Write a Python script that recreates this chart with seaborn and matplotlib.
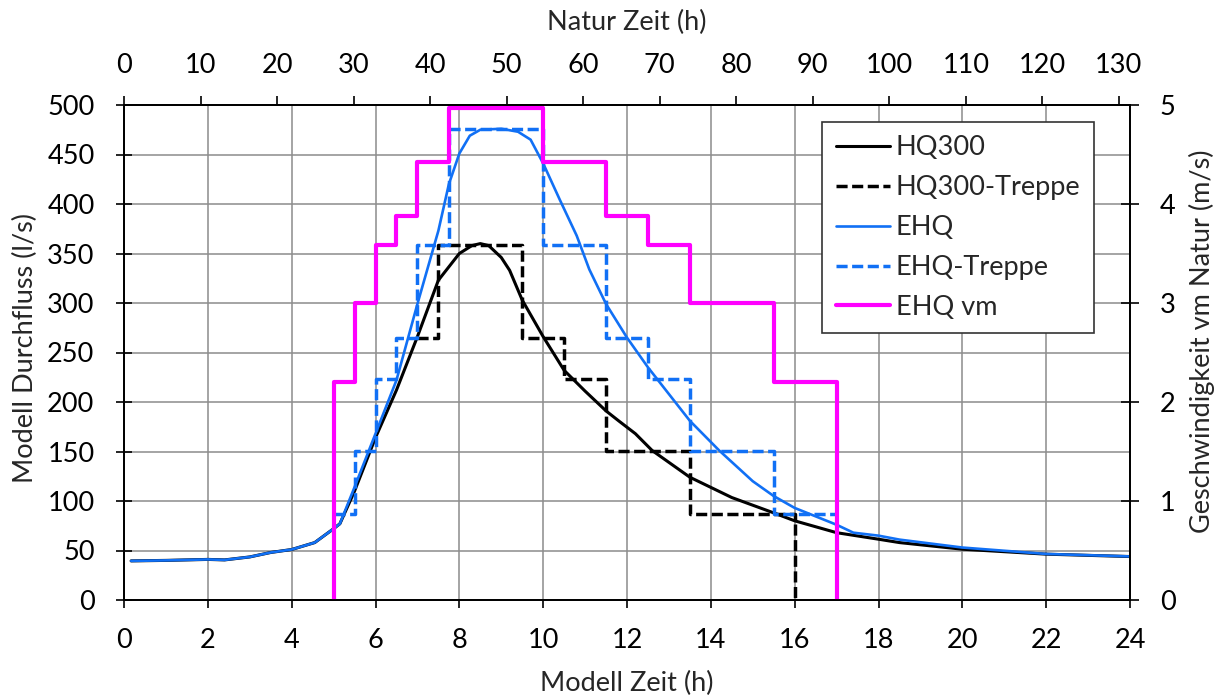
import numpy as np
import pandas as pd
import matplotlib
matplotlib.use("Agg")
import matplotlib.pyplot as plt
import seaborn as sns

# Modell Zeit (h) / Durchfluss (l/s) - Ganglinien
ehq_t = [0.17, 1.0, 2.0, 2.4, 3.0, 3.5, 4.0, 4.55, 5.0, 5.15, 5.5, 6.0, 6.5, 7.0, 7.5, 7.75,
         8.0, 8.25, 8.5, 9.0, 9.4, 9.7, 10.0, 10.4, 10.8, 11.1, 11.5, 12.0, 12.5, 13.0, 13.5,
         14.2, 15.0, 15.5, 16.0, 17.0, 17.4, 18.0, 18.5, 20.0, 22.0, 24.0]
ehq_q = [39.5, 40, 41, 40.5, 43.5, 48, 51, 58, 72, 77, 114, 168, 222, 299, 373, 420,
         451, 469, 475, 476, 473, 465, 441, 404, 368, 334, 299, 265, 235, 208, 181,
         151, 120, 105, 93, 76, 68, 65, 61, 53, 46.5, 44]

hq_t = [0.17, 1.0, 2.0, 2.4, 3.0, 3.5, 4.0, 4.55, 5.0, 5.15, 5.5, 6.0, 6.5, 7.0, 7.5, 8.0,
        8.3, 8.5, 8.7, 9.0, 9.2, 9.5, 10.0, 10.5, 11.0, 11.5, 11.8, 12.2, 12.6, 13.5, 14.5,
        15.5, 16.0, 17.0, 18.0, 18.5, 20.0, 22.0, 24.0]
hq_q = [39.5, 40, 41, 40.5, 43.5, 48, 51, 58, 72, 77, 110, 164, 212, 266, 323, 350,
        358, 360, 358, 346, 333, 303, 266, 232, 211, 191, 181, 168, 151, 124, 103.5,
        88, 80, 68, 61.4, 58, 51.3, 46.3, 43.9]

# Treppen (Stufenbeginn, Durchfluss)
hq_step_t = [7.0, 7.5, 9.5, 10.5, 11.5, 13.5, 16.0]
hq_step_q = [265, 359, 265, 223, 151, 87, 0]

ehq_step_t = [5.0, 5.5, 6.0, 6.5, 7.0, 7.75, 10.0, 11.5, 12.5, 13.5, 15.5, 17.0]
ehq_step_q = [87, 151, 223, 265, 359, 476, 359, 265, 223, 151, 87, 87]

# Geschwindigkeit vm Natur (m/s)
vm_t = [5.0, 5.0, 5.5, 6.0, 6.5, 7.0, 7.75, 10.0, 11.5, 12.5, 13.5, 15.5, 17.0, 17.0]
vm_v = [0, 2.2, 3.0, 3.59, 3.88, 4.42, 4.97, 4.42, 3.88, 3.59, 3.0, 2.2, 2.2, 0]

scale = np.sqrt(30)  # Zeitmassstab Modell -> Natur

sns.set_theme(style="white")
plt.rcParams['font.family'] = ['Lato', 'DejaVu Sans']
fs = 19.5

blue = '#1170F5'
magenta = '#FF00FF'
grid_c = '#8C8C8C'

fig = plt.figure(figsize=(12.28, 6.99), dpi=100)
W, H = 1228, 699
ax = fig.add_axes([124 / W, 1 - 600 / H, (1130 - 124) / W, (600 - 105) / H])

sns.lineplot(x=hq_t, y=hq_q, ax=ax, color='black', linewidth=2.2, sort=False,
             estimator=None, label='HQ300')
sns.lineplot(x=hq_step_t, y=hq_step_q, ax=ax, color='black', linewidth=2.5, sort=False,
             estimator=None, drawstyle='steps-post', label='HQ300-Treppe')
sns.lineplot(x=ehq_t, y=ehq_q, ax=ax, color=blue, linewidth=1.9, sort=False,
             estimator=None, label='EHQ')
sns.lineplot(x=ehq_step_t, y=ehq_step_q, ax=ax, color=blue, linewidth=2.5, sort=False,
             estimator=None, drawstyle='steps-post', label='EHQ-Treppe')
for ln in ax.get_lines()[1::2]:
    ln.set_dashes([3.2, 1.3])

ax2 = ax.twinx()
sns.lineplot(x=vm_t, y=vm_v, ax=ax2, color=magenta, linewidth=3.0, sort=False,
             estimator=None, drawstyle='steps-post', label='EHQ vm')

ax.set_xlim(0, 24)
ax.set_ylim(0, 500)
ax2.set_ylim(0, 5)
ax.set_xticks(np.arange(0, 25, 2))
ax.set_yticks(np.arange(0, 501, 50))
ax2.set_yticks(np.arange(0, 6, 1))
ax.grid(True, color=grid_c, linewidth=1.1)
ax.set_axisbelow(True)
ax.set_xlabel('')
ax.set_ylabel('')
ax2.set_ylabel('')

for a in (ax, ax2):
    for s in a.spines.values():
        s.set_color('black')
        s.set_linewidth(1.3)

ax.tick_params(axis='y', direction='inout', length=11.5, width=1.2, pad=15.5,
               labelsize=fs, colors='black', left=True)
ax.tick_params(axis='x', direction='out', length=6, width=1.2, pad=14,
               labelsize=fs, colors='black', bottom=True)
ax2.tick_params(axis='y', direction='inout', length=13, width=1.2, pad=15,
                labelsize=fs, colors='black', right=True)

top = ax.secondary_xaxis('top', functions=(lambda x: x * scale, lambda x: x / scale))
top.set_xticks(np.arange(0, 131, 10))
top.tick_params(direction='out', length=6.5, width=1.2, pad=13, labelsize=fs, colors='black')
top.spines['top'].set_linewidth(1.3)

# Legende
h1, l1 = ax.get_legend_handles_labels()
h2, l2 = ax2.get_legend_handles_labels()
ax.get_legend().remove()
ax2.get_legend().remove()
leg = ax2.legend(h1 + h2, l1 + l2, loc='upper right', bbox_to_anchor=(0.964, 0.966),
                 fontsize=fs, frameon=True, fancybox=False, framealpha=1,
                 edgecolor='#333333', handlelength=2.0, handletextpad=0.2,
                 labelspacing=0.55, borderpad=0.5, borderaxespad=0)
leg.get_frame().set_linewidth(1.2)

fig.text(627 / W, 1 - 683 / H, 'Modell Zeit (h)', ha='center', va='center', fontsize=fs)
fig.text(627 / W, 1 - 22 / H, 'Natur Zeit (h)', ha='center', va='center', fontsize=fs)
fig.text(25 / W, 1 - 348 / H, 'Modell Durchfluss (l/s)', ha='center', va='center',
         rotation=90, fontsize=fs)
fig.text(1202 / W, 1 - 341 / H, 'Geschwindigkeit vm Natur (m/s)', ha='center', va='center',
         rotation=90, fontsize=fs)

fig.savefig('out.png', dpi=100)
